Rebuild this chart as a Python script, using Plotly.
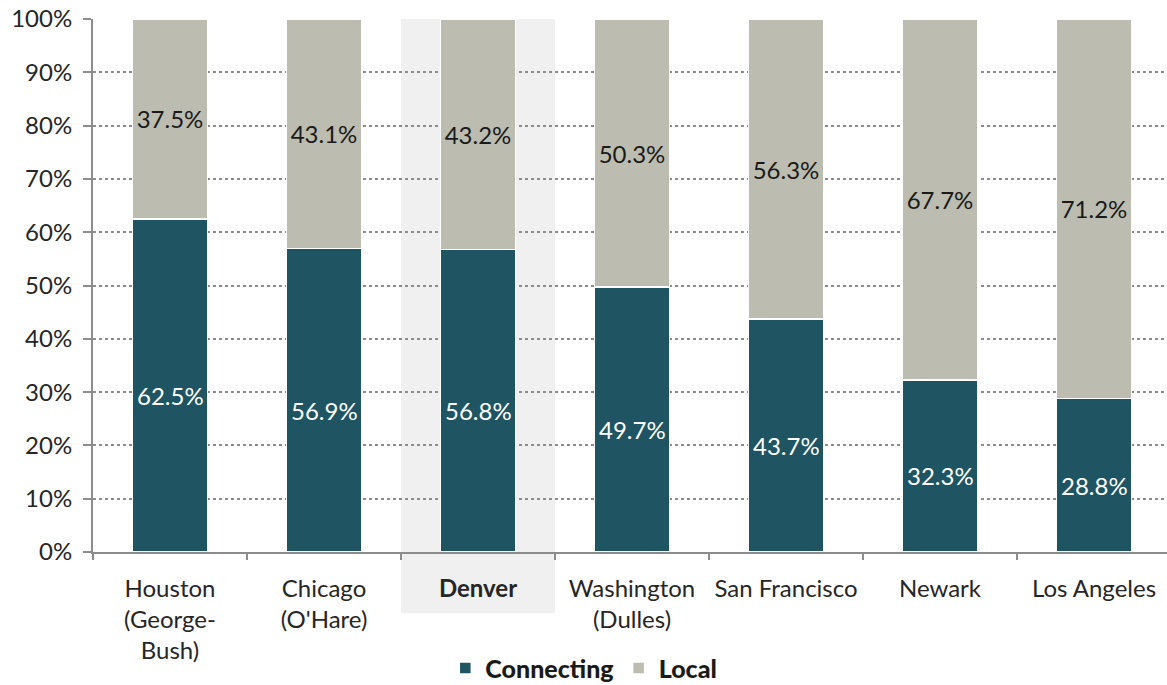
import plotly.graph_objects as go

airports = ["Houston<br>(George-<br>Bush)", "Chicago<br>(O'Hare)", "<b>Denver</b>",
            "Washington<br>(Dulles)", "San Francisco", "Newark", "Los Angeles"]
connecting = [62.5, 56.9, 56.8, 49.7, 43.7, 32.3, 28.8]
local = [37.5, 43.1, 43.2, 50.3, 56.3, 67.7, 71.2]
y_ticks = [0, 10, 20, 30, 40, 50, 60, 70, 80, 90, 100]

FONT = "Lato"
SIZE = 24

fig = go.Figure()
fig.add_trace(go.Bar(
    x=airports, y=[c / 100 for c in connecting], name="Connecting",
    marker=dict(color="#1f5462", line=dict(color="white", width=1.5)),
    width=0.49,
))
fig.add_trace(go.Bar(
    x=airports, y=[v / 100 for v in local], name="Local",
    marker=dict(color="#bcbcb0", line=dict(color="white", width=1.5)),
    text=[f"{v:.1f}%" for v in local], textposition="inside",
    insidetextanchor="middle", textangle=0,
    textfont=dict(color="#1a1a1a", size=SIZE, family=FONT),
    width=0.49,
))

# value labels for the connecting share, set a little below each segment's centre
for name, c in zip(airports, connecting):
    fig.add_annotation(x=name, y=c / 200, text=f"{c:.1f}%", showarrow=False,
                       yshift=-10, font=dict(color="white", size=SIZE, family=FONT))

# highlight band behind Denver, running down through its label
fig.add_shape(type="rect", xref="x", yref="paper", x0=1.5, x1=2.5,
              y0=-0.115, y1=1, fillcolor="#f0f0f0", line=dict(width=0), layer="below")

fig.update_layout(
    barmode="stack",
    width=1167, height=685,
    margin=dict(l=93, r=0, t=19, b=133, autoexpand=False),
    plot_bgcolor="white", paper_bgcolor="white",
    font=dict(family=FONT, size=SIZE, color="#262626"),
    showlegend=True,
    legend=dict(orientation="h", x=0.457, xanchor="center", y=-0.218, yanchor="middle",
                font=dict(size=SIZE + 1, color="#1a1a1a", family=FONT + " Black"),
                traceorder="normal", itemwidth=30),
    xaxis=dict(
        type="category", categoryorder="array", categoryarray=airports,
        range=[-0.5, 6.474], automargin=False,
        showline=True, linecolor="#8c8c8c", linewidth=2,
        ticks="outside", tickson="boundaries", ticklen=6, tickcolor="#8c8c8c", tickwidth=2,
        showgrid=False, tickfont=dict(size=SIZE, color="#262626"),
        ticklabelstandoff=14,
    ),
    yaxis=dict(
        range=[0, 1], tickmode="array", tickvals=[t / 100 for t in y_ticks],
        ticktext=[f"{t}%" for t in y_ticks], automargin=False,
        showline=True, linecolor="#8c8c8c", linewidth=2,
        ticks="outside", ticklen=8, tickcolor="#8c8c8c", tickwidth=2,
        showgrid=True, gridcolor="#8c8c8c", griddash="dot", gridwidth=1.5,
        zeroline=False, tickfont=dict(size=SIZE, color="#262626"),
        ticklabelstandoff=6,
    ),
)

fig.write_html("out.html")
